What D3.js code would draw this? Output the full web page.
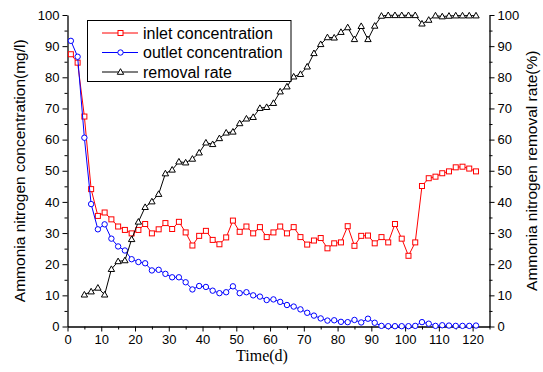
<!DOCTYPE html>
<html>
<head>
<meta charset="utf-8">
<script src="https://cdn.jsdelivr.net/npm/d3@7"></script>
<style>
  body { margin: 0; background: #fff; }
  svg { display: block; }
  .axis text { font-family: "Liberation Sans", Arial, sans-serif; font-size: 13px; fill: #000; }
  .axis path, .axis line { stroke: #000; }
</style>
</head>
<body>
<div id="chart"></div>
<script>
// sampling days (every 2 days)
const days = [1,3,5,7,9,11,13,15,17,19,21,23,25,27,29,31,33,35,37,39,41,43,45,47,49,51,53,55,57,59,
  61,63,65,67,69,71,73,75,77,79,81,83,85,87,89,91,93,95,97,99,101,103,105,107,109,111,113,115,117,119,121];

const inlet = [87.4,84.7,67.4,44.1,35.5,36.6,34.4,32.1,31.0,29.9,31.0,32.9,29.9,31.2,33.2,31.3,33.6,30.2,26.0,29.1,
  30.7,27.8,26.4,28.6,34.0,30.4,32.1,29.9,31.9,28.7,30.2,32.1,29.9,31.9,28.7,26.3,27.6,28.4,25.1,26.7,
  27.0,32.2,25.9,29.1,29.2,26.7,28.7,27.0,32.9,28.2,22.7,27.0,45.1,47.6,48.1,49.2,49.8,51.1,51.3,50.7,49.8];

const outlet = [91.7,86.6,60.6,39.3,31.2,32.8,28.2,25.7,24.4,21.6,20.7,20.3,18.0,18.2,16.9,15.8,15.8,14.2,11.9,13.0,
  12.7,11.5,10.7,11.0,12.9,10.7,11.0,10.0,9.6,8.5,8.7,7.9,6.9,6.4,5.5,4.4,3.5,2.6,1.9,2.0,
  1.5,1.4,2.1,1.3,2.5,1.2,0.2,0.1,0.1,0.1,0.1,0.2,1.4,0.9,0.2,0.4,0.3,0.2,0.2,0.2,0.3];

// removal rate starts on day 5
const removalDays = [5,7,9,11,13,15,17,19,21,23,25,27,29,31,33,35,37,39,41,43,45,47,49,51,53,55,57,59,
  61,63,65,67,69,71,73,75,77,79,81,83,85,87,89,91,93,95,97,99,101,103,105,107,109,111,113,115,117,119,121];
const removal = [10.2,11.2,12.4,10.2,18.4,20.9,21.2,28.0,33.6,38.3,40.1,42.5,49.1,50.3,52.9,52.6,53.8,55.8,
  59.0,58.5,60.4,62.2,62.5,65.2,66.7,67.2,70.1,70.4,71.7,75.4,77.0,80.2,81.0,83.4,87.7,90.6,92.8,92.7,
  94.5,96.0,92.2,96.4,92.2,96.5,99.7,99.9,99.9,99.9,99.9,99.9,97.2,98.4,99.8,99.5,99.7,99.8,99.8,99.8,99.8];

const xMajor = [0,10,20,30,40,50,60,70,80,90,100,110,120];
const xMinor = [5,15,25,35,45,55,65,75,85,95,105,115,125];
const yMajor = [0,10,20,30,40,50,60,70,80,90,100];
const yMinor = [5,15,25,35,45,55,65,75,85,95];

const width = 543, height = 372;
const plot = {left: 67.5, right: 489.5, top: 15, bottom: 326.5};

const svg = d3.select("#chart").append("svg")
    .attr("width", width)
    .attr("height", height);

svg.append("rect").attr("width", width).attr("height", height).attr("fill", "#fff");

const x = d3.scaleLinear().domain([0, 125]).range([plot.left, plot.right]);
const yL = d3.scaleLinear().domain([0, 100]).range([plot.bottom, plot.top]);
const yR = d3.scaleLinear().domain([0, 100]).range([plot.bottom, plot.top]);

// axes
const gx = svg.append("g").attr("class", "axis").attr("transform", "translate(0," + plot.bottom + ")");
gx.call(d3.axisBottom(x).tickValues(xMajor).tickSize(5).tickSizeOuter(0).tickPadding(3));
gx.append("g").call(d3.axisBottom(x).tickValues(xMinor).tickSize(3).tickFormat(""))
    .select(".domain").remove();

const gl = svg.append("g").attr("class", "axis").attr("transform", "translate(" + plot.left + ",0)");
gl.call(d3.axisLeft(yL).tickValues(yMajor).tickSize(5).tickSizeOuter(0).tickPadding(3));
gl.append("g").call(d3.axisLeft(yL).tickValues(yMinor).tickSize(3).tickFormat(""))
    .select(".domain").remove();

const gr = svg.append("g").attr("class", "axis").attr("transform", "translate(" + plot.right + ",0)");
gr.call(d3.axisRight(yR).tickValues(yMajor).tickSize(5).tickSizeOuter(0).tickPadding(3));
gr.append("g").call(d3.axisRight(yR).tickValues(yMinor).tickSize(3).tickFormat(""))
    .select(".domain").remove();

svg.selectAll(".axis .domain").attr("stroke-width", 1.3);

// axis titles
svg.append("text")
    .attr("transform", "translate(25," + ((plot.top + plot.bottom) / 2) + ") rotate(-90)")
    .attr("text-anchor", "middle")
    .style("font-family", "Liberation Sans, Arial, sans-serif")
    .style("font-size", "15.5px")
    .text("Ammonia nitrogen concentration(mg/l)");

svg.append("text")
    .attr("transform", "translate(537," + ((plot.top + plot.bottom) / 2) + ") rotate(-90)")
    .attr("text-anchor", "middle")
    .style("font-family", "Liberation Sans, Arial, sans-serif")
    .style("font-size", "15.5px")
    .text("Ammonia nitrogen removal rate(%)");

svg.append("text")
    .attr("x", 262)
    .attr("y", 361)
    .attr("text-anchor", "middle")
    .style("font-family", "Liberation Serif, Times New Roman, serif")
    .style("font-size", "16px")
    .text("Time(d)");

// series
const line = d3.line();

function drawSeries(xs, ys, yScale, color, shape) {
    const pts = xs.map((d, i) => [x(d), yScale(ys[i])]);
    svg.append("path")
        .attr("d", line(pts))
        .attr("fill", "none")
        .attr("stroke", color)
        .attr("stroke-width", 1);
    drawMarkers(pts, color, shape);
}

function drawMarkers(pts, color, shape) {
    const g = svg.append("g");
    pts.forEach(p => {
        if (shape === "square") {
            g.append("rect").attr("x", p[0] - 2.5).attr("y", p[1] - 2.5)
                .attr("width", 5).attr("height", 5)
                .attr("fill", "#fff").attr("stroke", color).attr("stroke-width", 1);
        } else if (shape === "circle") {
            g.append("circle").attr("cx", p[0]).attr("cy", p[1]).attr("r", 2.7)
                .attr("fill", "#fff").attr("stroke", color).attr("stroke-width", 1);
        } else {
            g.append("path")
                .attr("d", "M" + p[0] + "," + (p[1] - 3.3) + "L" + (p[0] + 3.2) + "," + (p[1] + 2.3) +
                    "L" + (p[0] - 3.2) + "," + (p[1] + 2.3) + "Z")
                .attr("fill", "#fff").attr("stroke", color).attr("stroke-width", 1);
        }
    });
}

drawSeries(days, inlet, yL, "#ff0000", "square");
drawSeries(days, outlet, yL, "#0000ff", "circle");
drawSeries(removalDays, removal, yR, "#000000", "triangle");

// legend
const legend = svg.append("g");
legend.append("rect")
    .attr("x", 87.5).attr("y", 20.5).attr("width", 203.5).attr("height", 61)
    .attr("fill", "#fff").attr("stroke", "#000").attr("stroke-width", 1);

const legendItems = [
    {label: "inlet concentration", color: "#ff0000", shape: "square"},
    {label: "outlet concentration", color: "#0000ff", shape: "circle"},
    {label: "removal rate", color: "#555555", shape: "triangle"}
];
legendItems.forEach((d, i) => {
    const ly = 33 + i * 19.5;
    legend.append("line").attr("x1", 102).attr("x2", 138).attr("y1", ly).attr("y2", ly)
        .attr("stroke", d.color).attr("stroke-width", i === 2 ? 1.6 : 1);
    drawMarkers([[120.5, ly]], i === 2 ? "#000" : d.color, d.shape);
    legend.append("text")
        .attr("x", 143).attr("y", ly + 5.5)
        .style("font-family", "Liberation Sans, Arial, sans-serif")
        .style("font-size", "16px")
        .text(d.label);
});
</script>
</body>
</html>
